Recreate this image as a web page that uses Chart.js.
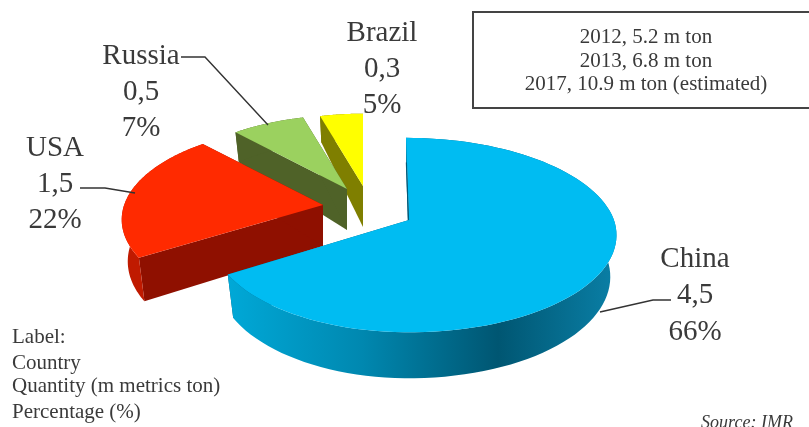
<!DOCTYPE html>
<html><head><meta charset="utf-8">
<style>
html,body{margin:0;padding:0;background:#fff;overflow:hidden}
#wrap{position:relative;width:809px;height:427px;overflow:hidden;filter:blur(.6px);font-family:"Liberation Serif",serif;color:#3a3a3a}
canvas{position:absolute;left:0;top:0}
.t{position:absolute;white-space:nowrap;line-height:1;transform:translateX(-50%)}
.big{font-size:29px}
.small{font-size:21px}
#box{position:absolute;left:472px;top:11px;width:350px;height:98px;border:2px solid #444;box-sizing:border-box}
</style></head><body>
<div id="wrap"><canvas id="c" width="809" height="427"></canvas><div id="box"></div></div>
<script src="https://cdn.jsdelivr.net/npm/chart.js@4"></script>
<script>
const categories=["China","USA","Russia","Brazil"];
const quantities=[4.5,1.5,0.5,0.3];
const percentages=[66,22,7,5];
const noteLines=["2012, 5.2 m ton","2013, 6.8 m ton","2017, 10.9 m ton (estimated)"];
const keyLines=["Label:","Country","Quantity (m metrics ton)","Percentage (%)"];
const sourceText="Source: IMR";

const topColors=["#00bcf2","#ff2a00","#9bd15f","#ffff00"];
const wallColors=["#005b7a","#8f1000","#4f6228","#7f7f00"];
const rimColors=["#005b7a","#c01a00","#4f6228","#7f7f00"];
const explode=[{dx:0,dy:0,s:1,left:.955,lean:3},{dx:-86,dy:-15,s:.97,left:1,lean:0},{dx:-62,dy:-31,s:.9,left:1,lean:0},{dx:-46,dy:-34,s:.88,left:1,lean:0}];
const persp={g:-0.155,tilt:0.463,depth:41,inset:.97};

function pt(arc,i,a){
  const e=explode[i],ux=Math.cos(a),uy=Math.sin(a),k=e.s*arc.outerRadius/(1+persp.g*uy);
  return [arc.x+e.dx+k*ux*(ux<0?e.left:1)+(uy<0?e.lean*uy:0),arc.y+e.dy+k*persp.tilt*uy];
}
function drop(a){const uy=Math.sin(a);return persp.depth*(1+(uy<0?.37*uy:.12*uy));}
function fillPoly(ctx,pts,fill){
  ctx.beginPath();pts.forEach((p,n)=>n?ctx.lineTo(p[0],p[1]):ctx.moveTo(p[0],p[1]));
  ctx.closePath();ctx.fillStyle=fill;ctx.fill();
}
const pie3d={id:'pie3d',beforeDatasetDraw(chart,args){
  const ctx=chart.ctx,arcs=chart.getDatasetMeta(args.index).data;
  for(let i=arcs.length-1;i>=0;i--){
    const arc=arcs[i],a0=arc.startAngle,a1=arc.endAngle,e=explode[i];
    const apex=[arc.x+e.dx,arc.y+e.dy];
    const rim=[],low=[];
    for(let n=0;n<=96;n++){
      const a=a0+(a1-a0)*n/96,p=pt(arc,i,a);
      rim.push(p);low.push([apex[0]+(p[0]-apex[0])*persp.inset,p[1]+drop(a)]);
    }
    const apexLow=[apex[0],apex[1]+persp.depth];
    let rimFill=rimColors[i];
    if(i===0){
      const gr=ctx.createLinearGradient(225,0,615,0);
      gr.addColorStop(0,"#00a9d8");gr.addColorStop(.35,"#0088b0");gr.addColorStop(.7,"#005672");gr.addColorStop(1,"#0a7fa6");
      rimFill=gr;
    }
    fillPoly(ctx,[apex,rim[0],low[0],apexLow],wallColors[i]);
    fillPoly(ctx,[apex,rim[96],low[96],apexLow],wallColors[i]);
    fillPoly(ctx,rim.concat(low.slice().reverse()),rimFill);
    fillPoly(ctx,[apex].concat(rim),topColors[i]);
    if(i===0){
      ctx.strokeStyle=wallColors[0];ctx.lineWidth=1.2;ctx.beginPath();
      ctx.moveTo(apex[0]-.5,apex[1]);ctx.lineTo(apex[0]+(rim[0][0]-apex[0])*.7-.5,apex[1]+(rim[0][1]-apex[1])*.7);ctx.stroke();
    }
  }
  // leader lines
  ctx.strokeStyle="#333";ctx.lineWidth=1.4;
  [[[181,57],[205,57],[268,125]],[[80,188],[105,188],[135,193]],[[600,312],[653,300],[671,300]]].forEach(l=>{
    ctx.beginPath();l.forEach((p,n)=>n?ctx.lineTo(p[0],p[1]):ctx.moveTo(p[0],p[1]));ctx.stroke();
  });
  return false;
}};

new Chart(document.getElementById('c'),{
  type:'pie',
  data:{labels:categories,datasets:[{data:quantities,backgroundColor:topColors,borderWidth:0,radius:205}]},
  options:{responsive:false,animation:false,events:[],
    layout:{padding:{left:9,top:13}},
    plugins:{legend:{display:false},tooltip:{enabled:false}}},
  plugins:[pie3d]
});

const wrap=document.getElementById('wrap');
function addText(txt,x,y,cls,extra){
  const d=document.createElement('div');d.className='t '+cls;d.textContent=txt;
  d.style.left=x+'px';d.style.top=y+'px';if(extra)Object.assign(d.style,extra);wrap.appendChild(d);
}
const labelPos=[[695,243],[55,132],[141,40],[382,17]];
categories.forEach((c,i)=>{
  const [x,y]=labelPos[i];
  addText(c,x,y,'big');
  addText(String(quantities[i]).replace('.',','),x,y+36,'big');
  addText(percentages[i]+'%',x,y+(i===0?73:72),'big');
});
noteLines.forEach((s,i)=>addText(s,646,26+i*23.5,'small'));
const keyTops=[326,352,375,401];
keyLines.forEach((s,i)=>addText(s,12,keyTops[i],'small',{transform:'none'}));
addText(sourceText,747,413,'small',{fontStyle:'italic',fontSize:'18px'});
</script>
</body></html>
